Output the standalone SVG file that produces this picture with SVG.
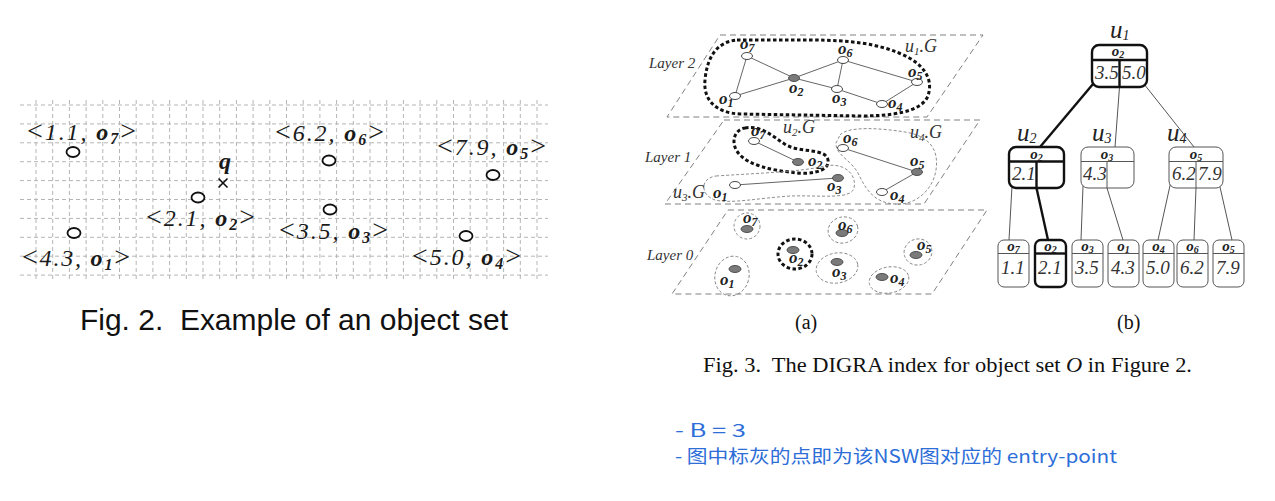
<svg xmlns="http://www.w3.org/2000/svg" width="1275" height="501" viewBox="0 0 1275 501">
<style>
.grid line{stroke:#b5b5b5;stroke-width:1;stroke-dasharray:4 3}
.f2{font-family:"Liberation Serif",serif;font-style:italic;font-size:24px;fill:#1a1a1a}
.br{font-size:28px;font-style:normal}
.b{font-weight:bold}
.s15{font-size:16px}
.pt{fill:#fff;stroke:#111;stroke-width:1.8}
.plane{fill:none;stroke:#808080;stroke-width:1;stroke-dasharray:6 4}
.nw{fill:#fff;stroke:#333;stroke-width:0.9}
.ng{fill:#7a7a7a;stroke:#444;stroke-width:0.9}
.edge{stroke:#555;stroke-width:0.9;fill:none}
.tdot{fill:none;stroke:#111;stroke-width:3;stroke-dasharray:3.5 2.5}
.tdash{fill:none;stroke:#808080;stroke-width:0.9;stroke-dasharray:3 2}
.ol{font-family:"Liberation Serif",serif;font-style:italic;font-weight:bold;font-size:17px;fill:#222}
.sb{font-size:12px}
.layer{font-family:"Liberation Serif",serif;font-style:italic;font-size:15px;fill:#333}
.ug{font-family:"Liberation Serif",serif;font-style:italic;font-size:18px;fill:#333}
.cap2{font-family:"Liberation Sans",sans-serif;font-size:29px;fill:#111}
.cap3{font-family:"Liberation Serif",serif;font-size:20px;fill:#111}
.sub{font-family:"Liberation Serif",serif;font-size:20px;fill:#111}
.note{font-family:"Noto Sans CJK SC",sans-serif;font-size:18px;fill:#2d6ed8}
.tthin{fill:#fff;stroke:#555;stroke-width:1}
.tthick{fill:#fff;stroke:#111;stroke-width:2.4}
.tl{stroke:#555;stroke-width:1}
.tk{stroke:#111;stroke-width:2.4}
.hd{font-family:"Liberation Serif",serif;font-style:italic;font-weight:bold;font-size:15px;fill:#222;text-anchor:middle}
.val{font-family:"Liberation Serif",serif;font-style:italic;font-size:19px;fill:#333}
.ul{font-family:"Liberation Serif",serif;font-style:italic;font-size:25px;fill:#222}
</style>

<!-- Figure 2 grid -->
<g id="fig2-grid" class="grid">
<line x1="20" y1="105" x2="548" y2="105"/>
<line x1="20" y1="123.9" x2="548" y2="123.9"/>
<line x1="20" y1="142.8" x2="548" y2="142.8"/>
<line x1="20" y1="161.7" x2="548" y2="161.7"/>
<line x1="20" y1="180.6" x2="548" y2="180.6"/>
<line x1="20" y1="199.5" x2="548" y2="199.5"/>
<line x1="20" y1="218.4" x2="548" y2="218.4"/>
<line x1="20" y1="237.3" x2="548" y2="237.3"/>
<line x1="20" y1="256.2" x2="548" y2="256.2"/>
<line x1="20" y1="275.1" x2="548" y2="275.1"/>
<line x1="36" y1="100" x2="36" y2="282"/>
<line x1="52.7" y1="100" x2="52.7" y2="282"/>
<line x1="69.4" y1="100" x2="69.4" y2="282"/>
<line x1="86.1" y1="100" x2="86.1" y2="282"/>
<line x1="102.8" y1="100" x2="102.8" y2="282"/>
<line x1="119.5" y1="100" x2="119.5" y2="282"/>
<line x1="136.2" y1="100" x2="136.2" y2="282"/>
<line x1="152.9" y1="100" x2="152.9" y2="282"/>
<line x1="169.6" y1="100" x2="169.6" y2="282"/>
<line x1="186.3" y1="100" x2="186.3" y2="282"/>
<line x1="203" y1="100" x2="203" y2="282"/>
<line x1="219.7" y1="100" x2="219.7" y2="282"/>
<line x1="236.4" y1="100" x2="236.4" y2="282"/>
<line x1="253.1" y1="100" x2="253.1" y2="282"/>
<line x1="269.8" y1="100" x2="269.8" y2="282"/>
<line x1="286.5" y1="100" x2="286.5" y2="282"/>
<line x1="303.2" y1="100" x2="303.2" y2="282"/>
<line x1="319.9" y1="100" x2="319.9" y2="282"/>
<line x1="336.6" y1="100" x2="336.6" y2="282"/>
<line x1="353.3" y1="100" x2="353.3" y2="282"/>
<line x1="370" y1="100" x2="370" y2="282"/>
<line x1="386.7" y1="100" x2="386.7" y2="282"/>
<line x1="403.4" y1="100" x2="403.4" y2="282"/>
<line x1="420.1" y1="100" x2="420.1" y2="282"/>
<line x1="436.8" y1="100" x2="436.8" y2="282"/>
<line x1="453.5" y1="100" x2="453.5" y2="282"/>
<line x1="470.2" y1="100" x2="470.2" y2="282"/>
<line x1="486.9" y1="100" x2="486.9" y2="282"/>
<line x1="503.6" y1="100" x2="503.6" y2="282"/>
<line x1="520.3" y1="100" x2="520.3" y2="282"/>
<line x1="537" y1="100" x2="537" y2="282"/>
</g>

<!-- Figure 2 objects -->
<g id="obj-o7"><ellipse class="pt" cx="73" cy="152" rx="6.5" ry="5"/>
<text class="f2" x="27" y="140" textLength="109" lengthAdjust="spacing"><tspan class="br">&lt;</tspan>1.1, <tspan class="b">o</tspan><tspan class="b s15" dy="4">7</tspan><tspan class="br" dy="-4">&gt;</tspan></text></g>
<g id="obj-o6"><ellipse class="pt" cx="329" cy="160.5" rx="6.5" ry="5"/>
<text class="f2" x="275" y="141" textLength="109" lengthAdjust="spacing"><tspan class="br">&lt;</tspan>6.2, <tspan class="b">o</tspan><tspan class="b s15" dy="4">6</tspan><tspan class="br" dy="-4">&gt;</tspan></text></g>
<g id="obj-o5"><ellipse class="pt" cx="493" cy="175" rx="6.5" ry="5"/>
<text class="f2" x="437" y="155" textLength="109" lengthAdjust="spacing"><tspan class="br">&lt;</tspan>7.9, <tspan class="b">o</tspan><tspan class="b s15" dy="4">5</tspan><tspan class="br" dy="-4">&gt;</tspan></text></g>
<g id="obj-o2"><ellipse class="pt" cx="198" cy="197.5" rx="6.5" ry="5"/>
<text class="f2" x="146" y="226" textLength="109" lengthAdjust="spacing"><tspan class="br">&lt;</tspan>2.1, <tspan class="b">o</tspan><tspan class="b s15" dy="4">2</tspan><tspan class="br" dy="-4">&gt;</tspan></text></g>
<g id="obj-o3"><ellipse class="pt" cx="330" cy="209.5" rx="6.5" ry="5"/>
<text class="f2" x="279" y="239" textLength="109" lengthAdjust="spacing"><tspan class="br">&lt;</tspan>3.5, <tspan class="b">o</tspan><tspan class="b s15" dy="4">3</tspan><tspan class="br" dy="-4">&gt;</tspan></text></g>
<g id="obj-o1"><ellipse class="pt" cx="74" cy="233" rx="6.5" ry="5"/>
<text class="f2" x="22" y="266" textLength="108" lengthAdjust="spacing"><tspan class="br">&lt;</tspan>4.3, <tspan class="b">o</tspan><tspan class="b s15" dy="4">1</tspan><tspan class="br" dy="-4">&gt;</tspan></text></g>
<g id="obj-o4"><ellipse class="pt" cx="466" cy="236" rx="6.5" ry="5"/>
<text class="f2" x="412" y="265" textLength="109" lengthAdjust="spacing"><tspan class="br">&lt;</tspan>5.0, <tspan class="b">o</tspan><tspan class="b s15" dy="4">4</tspan><tspan class="br" dy="-4">&gt;</tspan></text></g>
<g id="query-q">
<text class="f2 b" x="219" y="169" font-size="24">q</text>
<line x1="218.5" y1="178.5" x2="227.5" y2="187.5" stroke="#111" stroke-width="1.6"/>
<line x1="227.5" y1="178.5" x2="218.5" y2="187.5" stroke="#111" stroke-width="1.6"/>
</g>
<text class="cap2" x="80" y="330" textLength="428" lengthAdjust="spacingAndGlyphs">Fig. 2.&#160; Example of an object set</text>

<!-- Figure 3(a) layers -->
<g id="layer2">
<polygon class="plane" points="720,35 983,35 927,117 667,117"/>
<text class="layer" x="649" y="68">Layer 2</text>
<path class="tdot" d="M737 40 L810 40 C852 40 877 44 899 53 C924 63 935 80 927 98 C919 112 892 116 860 116 L740 114 C716 113 703 100 705 80 C707 58 716 42 737 40 Z"/>
<text class="ug" x="905" y="52">u<tspan font-size="11" dy="3">1</tspan><tspan dy="-3">.G</tspan></text>
<g class="l2edges">
<line class="edge" x1="747" y1="56" x2="735" y2="96"/>
<line class="edge" x1="747" y1="56" x2="794" y2="78"/>
<line class="edge" x1="735" y1="96" x2="794" y2="78"/>
<line class="edge" x1="794" y1="78" x2="843" y2="60"/>
<line class="edge" x1="794" y1="78" x2="837" y2="89"/>
<line class="edge" x1="843" y1="60" x2="837" y2="89"/>
<line class="edge" x1="843" y1="60" x2="917" y2="82"/>
<line class="edge" x1="837" y1="89" x2="882" y2="104"/>
<line class="edge" x1="882" y1="104" x2="917" y2="82"/>
</g>
<g id="l2-o7"><ellipse class="nw" cx="747" cy="56" rx="5.5" ry="3.5"/><text class="ol" x="740" y="49">o<tspan class="sb" dy="3">7</tspan></text></g>
<g id="l2-o2"><ellipse class="ng" cx="794" cy="78" rx="5.5" ry="3.5"/><text class="ol" x="789" y="93">o<tspan class="sb" dy="3">2</tspan></text></g>
<g id="l2-o1"><ellipse class="nw" cx="735" cy="96" rx="5.5" ry="3.5"/><text class="ol" x="719" y="104">o<tspan class="sb" dy="3">1</tspan></text></g>
<g id="l2-o6"><ellipse class="nw" cx="843" cy="60" rx="5.5" ry="3.5"/><text class="ol" x="838" y="54">o<tspan class="sb" dy="3">6</tspan></text></g>
<g id="l2-o5"><ellipse class="nw" cx="917" cy="82" rx="5.5" ry="3.5"/><text class="ol" x="908" y="77">o<tspan class="sb" dy="3">5</tspan></text></g>
<g id="l2-o3"><ellipse class="nw" cx="837" cy="89" rx="5.5" ry="3.5"/><text class="ol" x="832" y="103">o<tspan class="sb" dy="3">3</tspan></text></g>
<g id="l2-o4"><ellipse class="nw" cx="882" cy="104" rx="5.5" ry="3.5"/><text class="ol" x="888" y="108">o<tspan class="sb" dy="3">4</tspan></text></g>
</g>

<g id="layer1">
<polygon class="plane" points="724,120 980,120 924,204 665,204"/>
<text class="layer" x="645" y="162">Layer 1</text>
<path class="tdot" d="M745 128 C760 125 771 135 786 145 C801 153 826 148 828 160 C830 173 806 175 790 172 C770 170 750 165 740 155 C730 145 733 130 745 128 Z"/>
<path class="tdash" d="M716 176 C760 173 800 172 825 166 C845 162 857 175 854 188 C851 200 820 195 790 196 C760 198 730 204 715 200 C700 195 700 178 716 176 Z"/>
<path class="tdash" d="M840 135 C848 126 880 128 905 132 C930 136 939 150 936 170 C933 190 915 206 895 204 C875 203 866 190 859 175 C852 160 835 155 836 143 Z"/>
<text class="ug" x="783" y="133">u<tspan font-size="11" dy="3">2</tspan><tspan dy="-3">.G</tspan></text>
<text class="ug" x="910" y="138">u<tspan font-size="11" dy="3">4</tspan><tspan dy="-3">.G</tspan></text>
<text class="ug" x="673" y="198">u<tspan font-size="11" dy="3">3</tspan><tspan dy="-3">.G</tspan></text>
<line class="edge" x1="754" y1="141" x2="798" y2="162"/>
<line class="edge" x1="735" y1="185" x2="838" y2="178"/>
<line class="edge" x1="843" y1="148" x2="917" y2="172"/>
<line class="edge" x1="917" y1="172" x2="882" y2="192"/>
<g id="l1-o7"><ellipse class="nw" cx="754" cy="141" rx="5.5" ry="3.5"/><text class="ol" x="751" y="136">o<tspan class="sb" dy="3">7</tspan></text></g>
<g id="l1-o2"><ellipse class="ng" cx="798" cy="162" rx="5.5" ry="3.5"/><text class="ol" x="808" y="166">o<tspan class="sb" dy="3">2</tspan></text></g>
<g id="l1-o1"><ellipse class="nw" cx="735" cy="185" rx="5.5" ry="3.5"/><text class="ol" x="713" y="198">o<tspan class="sb" dy="3">1</tspan></text></g>
<g id="l1-o3"><ellipse class="ng" cx="838" cy="178" rx="5.5" ry="3.5"/><text class="ol" x="827" y="191">o<tspan class="sb" dy="3">3</tspan></text></g>
<g id="l1-o6"><ellipse class="nw" cx="843" cy="148" rx="5.5" ry="3.5"/><text class="ol" x="843" y="143">o<tspan class="sb" dy="3">6</tspan></text></g>
<g id="l1-o5"><ellipse class="ng" cx="917" cy="172" rx="5.5" ry="3.5"/><text class="ol" x="910" y="166">o<tspan class="sb" dy="3">5</tspan></text></g>
<g id="l1-o4"><ellipse class="nw" cx="882" cy="192" rx="5.5" ry="3.5"/><text class="ol" x="890" y="200">o<tspan class="sb" dy="3">4</tspan></text></g>
</g>

<g id="layer0">
<polygon class="plane" points="728,210 987,210 932,294 672,294"/>
<text class="layer" x="647" y="260">Layer 0</text>
<g id="l0-o7"><ellipse class="tdash" cx="747" cy="226" rx="13" ry="13"/><ellipse class="ng" cx="747" cy="229" rx="6" ry="3.5"/><text class="ol" x="743" y="223">o<tspan class="sb" dy="3">7</tspan></text></g>
<g id="l0-o6"><ellipse class="tdash" cx="843" cy="230" rx="15" ry="13" transform="rotate(-15 843 230)"/><ellipse class="ng" cx="842" cy="233" rx="6" ry="3.5"/><text class="ol" x="838" y="230">o<tspan class="sb" dy="3">6</tspan></text></g>
<g id="l0-o2"><ellipse class="tdot" cx="795" cy="254" rx="17" ry="15"/><ellipse class="ng" cx="793" cy="250" rx="6" ry="3.5"/><text class="ol" x="789" y="263">o<tspan class="sb" dy="3">2</tspan></text></g>
<g id="l0-o5"><ellipse class="tdash" cx="918" cy="252" rx="14" ry="13" transform="rotate(-15 918 252)"/><ellipse class="ng" cx="916" cy="255" rx="6" ry="3.5"/><text class="ol" x="917" y="250">o<tspan class="sb" dy="3">5</tspan></text></g>
<g id="l0-o1"><ellipse class="tdash" cx="732" cy="276" rx="17" ry="20" transform="rotate(15 732 276)"/><ellipse class="ng" cx="735" cy="269" rx="6" ry="3.5"/><text class="ol" x="720" y="285">o<tspan class="sb" dy="3">1</tspan></text></g>
<g id="l0-o3"><ellipse class="tdash" cx="837" cy="268" rx="21" ry="15" transform="rotate(-10 837 268)"/><ellipse class="ng" cx="837" cy="262" rx="6" ry="3.5"/><text class="ol" x="832" y="277">o<tspan class="sb" dy="3">3</tspan></text></g>
<g id="l0-o4"><ellipse class="tdash" cx="889" cy="280" rx="20" ry="13" transform="rotate(-10 889 280)"/><ellipse class="ng" cx="882" cy="277" rx="6" ry="3.5"/><text class="ol" x="890" y="283">o<tspan class="sb" dy="3">4</tspan></text></g>
</g>
<text class="sub" x="795" y="329">(a)</text>

<!-- Figure 3(b) tree connectors -->
<g id="tree-connectors">
<line class="tk" x1="1093" y1="84" x2="1040" y2="147"/>
<line class="tl" x1="1119.5" y1="87" x2="1115" y2="147"/>
<line class="tl" x1="1144" y1="84" x2="1194" y2="147"/>
<line class="tl" x1="1012" y1="186" x2="1009" y2="240"/>
<line class="tk" x1="1036.5" y1="188" x2="1048" y2="240"/>
<line class="tl" x1="1083" y1="186" x2="1081" y2="240"/>
<line class="tl" x1="1107" y1="188" x2="1123" y2="240"/>
<line class="tl" x1="1171" y1="181" x2="1158" y2="240"/>
<line class="tl" x1="1196" y1="188" x2="1194" y2="240"/>
<line class="tl" x1="1220" y1="187" x2="1232" y2="240"/>
</g>

<g id="u1">
<text class="ul" x="1110" y="38">u<tspan font-size="14" dy="2">1</tspan></text>
<rect class="tthick" x="1092" y="45" width="55" height="42" rx="7"/>
<line class="tk" x1="1092" y1="60" x2="1147" y2="60"/>
<line class="tk" x1="1119.5" y1="60" x2="1119.5" y2="87"/>
<text class="hd" x="1118" y="56">o<tspan font-size="10" dy="2">2</tspan></text>
<text class="val" x="1095" y="79">3.5</text>
<text class="val" x="1122" y="79">5.0</text>
</g>
<g id="u2">
<text class="ul" x="1017" y="141">u<tspan font-size="14" dy="2">2</tspan></text>
<rect class="tthick" x="1009" y="147" width="55" height="41" rx="7"/>
<line class="tk" x1="1009" y1="161.5" x2="1064" y2="161.5"/>
<line class="tk" x1="1036.5" y1="161.5" x2="1036.5" y2="188"/>
<text class="hd" x="1036.5" y="158.5">o<tspan font-size="10" dy="2">2</tspan></text>
<text class="val" x="1012" y="180">2.1</text>
</g>
<g id="u3">
<text class="ul" x="1092" y="141">u<tspan font-size="14" dy="2">3</tspan></text>
<rect class="tthin" x="1081" y="147" width="53" height="41" rx="7"/>
<line class="tl" x1="1081" y1="161.5" x2="1134" y2="161.5"/>
<line class="tl" x1="1107" y1="161.5" x2="1107" y2="188"/>
<text class="hd" x="1107" y="158.5">o<tspan font-size="10" dy="2">3</tspan></text>
<text class="val" x="1083" y="180">4.3</text>
</g>
<g id="u4">
<text class="ul" x="1167" y="141">u<tspan font-size="14" dy="2">4</tspan></text>
<rect class="tthin" x="1169" y="147" width="54" height="41" rx="7"/>
<line class="tl" x1="1169" y1="161.5" x2="1223" y2="161.5"/>
<line class="tl" x1="1196" y1="161.5" x2="1196" y2="188"/>
<text class="hd" x="1196" y="158.5">o<tspan font-size="10" dy="2">5</tspan></text>
<text class="val" x="1172" y="180">6.2</text>
<text class="val" x="1198" y="180">7.9</text>
</g>

<g id="leaf-o7"><rect class="tthin" x="998" y="240" width="31" height="47" rx="6"/><line class="tl" x1="998" y1="253.5" x2="1029" y2="253.5"/><text class="hd" x="1013.5" y="251">o<tspan font-size="10" dy="2">7</tspan></text><text class="val" x="1001" y="274">1.1</text></g>
<g id="leaf-o2"><rect class="tthick" x="1035" y="240" width="31" height="47" rx="6"/><line class="tk" x1="1035" y1="253.5" x2="1066" y2="253.5"/><text class="hd" x="1050.5" y="251">o<tspan font-size="10" dy="2">2</tspan></text><text class="val" x="1038" y="274">2.1</text></g>
<g id="leaf-o3"><rect class="tthin" x="1072" y="240" width="31" height="47" rx="6"/><line class="tl" x1="1072" y1="253.5" x2="1103" y2="253.5"/><text class="hd" x="1087.5" y="251">o<tspan font-size="10" dy="2">3</tspan></text><text class="val" x="1075" y="274">3.5</text></g>
<g id="leaf-o1"><rect class="tthin" x="1108" y="240" width="31" height="47" rx="6"/><line class="tl" x1="1108" y1="253.5" x2="1139" y2="253.5"/><text class="hd" x="1123.5" y="251">o<tspan font-size="10" dy="2">1</tspan></text><text class="val" x="1111" y="274">4.3</text></g>
<g id="leaf-o4"><rect class="tthin" x="1143" y="240" width="31" height="47" rx="6"/><line class="tl" x1="1143" y1="253.5" x2="1174" y2="253.5"/><text class="hd" x="1158.5" y="251">o<tspan font-size="10" dy="2">4</tspan></text><text class="val" x="1146" y="274">5.0</text></g>
<g id="leaf-o6"><rect class="tthin" x="1177" y="240" width="31" height="47" rx="6"/><line class="tl" x1="1177" y1="253.5" x2="1208" y2="253.5"/><text class="hd" x="1192.5" y="251">o<tspan font-size="10" dy="2">6</tspan></text><text class="val" x="1180" y="274">6.2</text></g>
<g id="leaf-o5"><rect class="tthin" x="1213" y="240" width="31" height="47" rx="6"/><line class="tl" x1="1213" y1="253.5" x2="1244" y2="253.5"/><text class="hd" x="1228.5" y="251">o<tspan font-size="10" dy="2">5</tspan></text><text class="val" x="1216" y="274">7.9</text></g>
<text class="sub" x="1117" y="329">(b)</text>

<text class="cap3" x="703" y="372" textLength="489" lengthAdjust="spacingAndGlyphs">Fig. 3.&#160; The DIGRA index for object set <tspan font-style="italic">O</tspan> in Figure 2.</text>

<text class="note" x="675" y="437" textLength="71" lengthAdjust="spacingAndGlyphs">- B = 3</text>
<text class="note" x="675" y="463" textLength="442" lengthAdjust="spacingAndGlyphs">- 图中标灰的点即为该NSW图对应的 entry-point</text>
</svg>
